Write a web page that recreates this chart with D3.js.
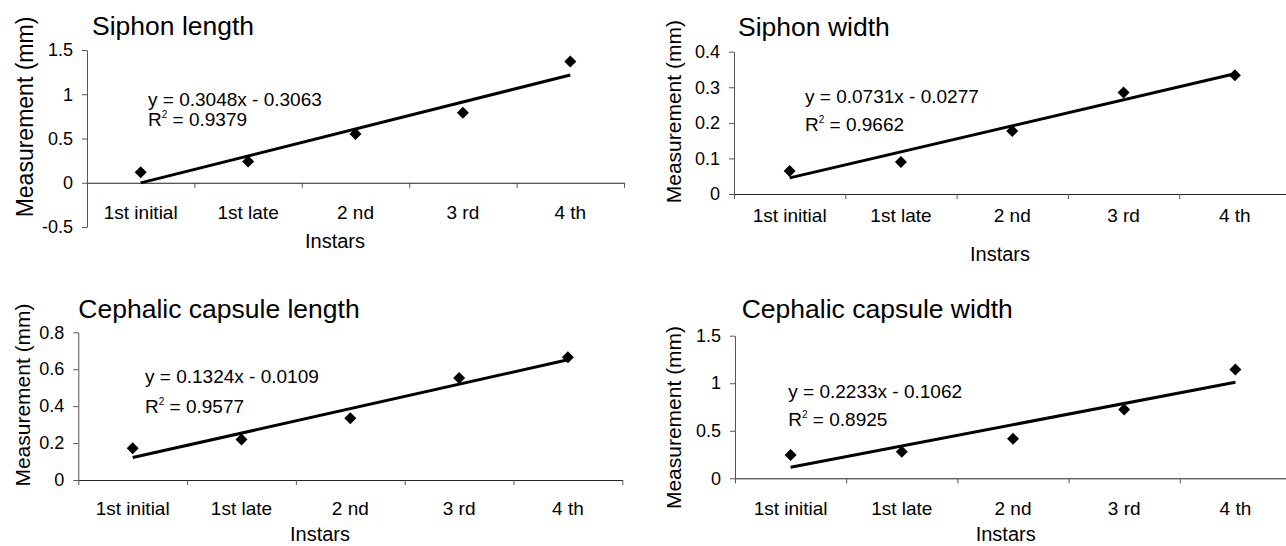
<!DOCTYPE html>
<html>
<head>
<meta charset="utf-8">
<script src="https://cdn.jsdelivr.net/npm/d3@7"></script>
<style>
  body { margin: 0; background: #fff; }
  text { font-family: Arial, "Liberation Sans", sans-serif; fill: #000; }
</style>
</head>
<body>
<div id="vis"></div>
<script>
// datos
const instars = ["1st initial", "1st late", "2 nd", "3 rd", "4 th"];
const siphonLength = [0.12, 0.24, 0.55, 0.79, 1.37];
const siphonWidth = [0.065, 0.09, 0.177, 0.285, 0.334];
const capsuleLength = [0.172, 0.22, 0.334, 0.553, 0.665];
const capsuleWidth = [0.245, 0.28, 0.415, 0.725, 1.145];

const titles = ["Siphon length", "Siphon width", "Cephalic capsule length", "Cephalic capsule width"];
const slopes = [0.3048, 0.0731, 0.1324, 0.2233];
const intercepts = [-0.3063, -0.0277, -0.0109, -0.1062];
const rSquared = ["0.9379", "0.9662", "0.9577", "0.8925"];
const yTicks = [
  [-0.5, 0, 0.5, 1, 1.5],
  [0, 0.1, 0.2, 0.3, 0.4],
  [0, 0.2, 0.4, 0.6, 0.8],
  [0, 0.5, 1, 1.5]
];
const series = [siphonLength, siphonWidth, capsuleLength, capsuleWidth];

const WIDTH = 1286, HEIGHT = 546;

// posiciones de cada panel
const panels = [
  { x0: 87, x1: 624, y0: 227, y1: 50, title: [92, 35], eq: [148, 106], r2: [148, 126],
    labY: 219, instars: [335, 248], meas: [33, 117, 23] },
  { x0: 734, x1: 1290.5, y0: 194, y1: 51.7, title: [738, 36], eq: [805, 102.7], r2: [805, 131],
    labY: 222, instars: [1000, 261], meas: [681, 111.7, 21] },
  { x0: 78.3, x1: 622.3, y0: 480, y1: 332.3, title: [78.3, 317.7], eq: [145, 383.3], r2: [145, 413.3],
    labY: 515, instars: [320, 541], meas: [30, 395, 21] },
  { x0: 735, x1: 1291, y0: 478.3, y1: 335.7, title: [741.7, 317.7], eq: [788.3, 397.7], r2: [788.3, 425.7],
    labY: 515, instars: [1005.7, 541], meas: [681, 417.5, 21] }
];

const svg = d3.select("#vis").append("svg")
  .attr("width", WIDTH).attr("height", HEIGHT);

const diamond = d3.symbol().type(d3.symbolSquare).size(72);

panels.forEach((p, k) => {
  const g = svg.append("g");
  const ticks = yTicks[k];

  const x = d3.scaleLinear().domain([0.5, 5.5]).range([p.x0, p.x1]);
  const y = d3.scaleLinear().domain([ticks[0], ticks[ticks.length - 1]]).range([p.y0, p.y1]);

  // eje Y
  const ejeY = g.append("g")
    .attr("transform", `translate(${p.x0},0)`)
    .call(d3.axisLeft(y).tickValues(ticks).tickSize(5).tickSizeOuter(0)
      .tickPadding(9).tickFormat(d => String(d)));
  ejeY.select(".domain").attr("stroke", "#555");
  ejeY.selectAll(".tick line").attr("stroke", "#555");
  ejeY.selectAll(".tick text").style("font-size", "18px").style("font-family", "Arial, 'Liberation Sans', sans-serif").attr("fill", "#000");

  // eje X en y = 0
  const ejeX = g.append("g")
    .attr("transform", `translate(0,${y(0)})`)
    .call(d3.axisBottom(x).tickValues([0.5, 1.5, 2.5, 3.5, 4.5, 5.5]).tickSize(5)
      .tickSizeOuter(0).tickFormat(""));
  ejeX.select(".domain").attr("stroke", "#222");
  ejeX.selectAll(".tick line").attr("stroke", "#555");

  // etiquetas de categorías
  g.selectAll(".cat")
    .data(instars)
    .join("text")
    .attr("class", "cat")
    .attr("x", (d, i) => x(i + 1))
    .attr("y", p.labY)
    .attr("text-anchor", "middle")
    .style("font-size", "19px")
    .text(d => d);

  // línea de tendencia
  const trend = [1, 5].map(v => [x(v), y(slopes[k] * v + intercepts[k])]);
  g.append("path")
    .attr("d", d3.line()(trend))
    .attr("stroke", "#000")
    .attr("stroke-width", 3)
    .attr("fill", "none");

  // puntos
  g.selectAll(".pt")
    .data(series[k])
    .join("path")
    .attr("class", "pt")
    .attr("d", diamond)
    .attr("transform", (d, i) => `translate(${x(i + 1)},${y(d)}) rotate(45)`)
    .attr("fill", "#000");

  // título
  g.append("text")
    .attr("x", p.title[0]).attr("y", p.title[1])
    .style("font-size", "26.5px")
    .text(titles[k]);

  // ecuación
  const b = intercepts[k];
  g.append("text")
    .attr("x", p.eq[0]).attr("y", p.eq[1])
    .style("font-size", "19px")
    .text(`y = ${slopes[k].toFixed(4)}x ${b < 0 ? "-" : "+"} ${Math.abs(b).toFixed(4)}`);

  const r2 = g.append("text")
    .attr("x", p.r2[0]).attr("y", p.r2[1])
    .style("font-size", "19px");
  r2.append("tspan").text("R");
  r2.append("tspan").attr("dy", -8).style("font-size", "10px").text("2");
  r2.append("tspan").attr("dy", 8).text(` = ${rSquared[k]}`);

  // títulos de ejes
  g.append("text")
    .attr("x", p.instars[0]).attr("y", p.instars[1])
    .attr("text-anchor", "middle")
    .style("font-size", "20px")
    .text("Instars");

  g.append("text")
    .attr("transform", `translate(${p.meas[0]},${p.meas[1]}) rotate(-90)`)
    .attr("text-anchor", "middle")
    .style("font-size", p.meas[2] + "px")
    .text("Measurement (mm)");
});
</script>
</body>
</html>
